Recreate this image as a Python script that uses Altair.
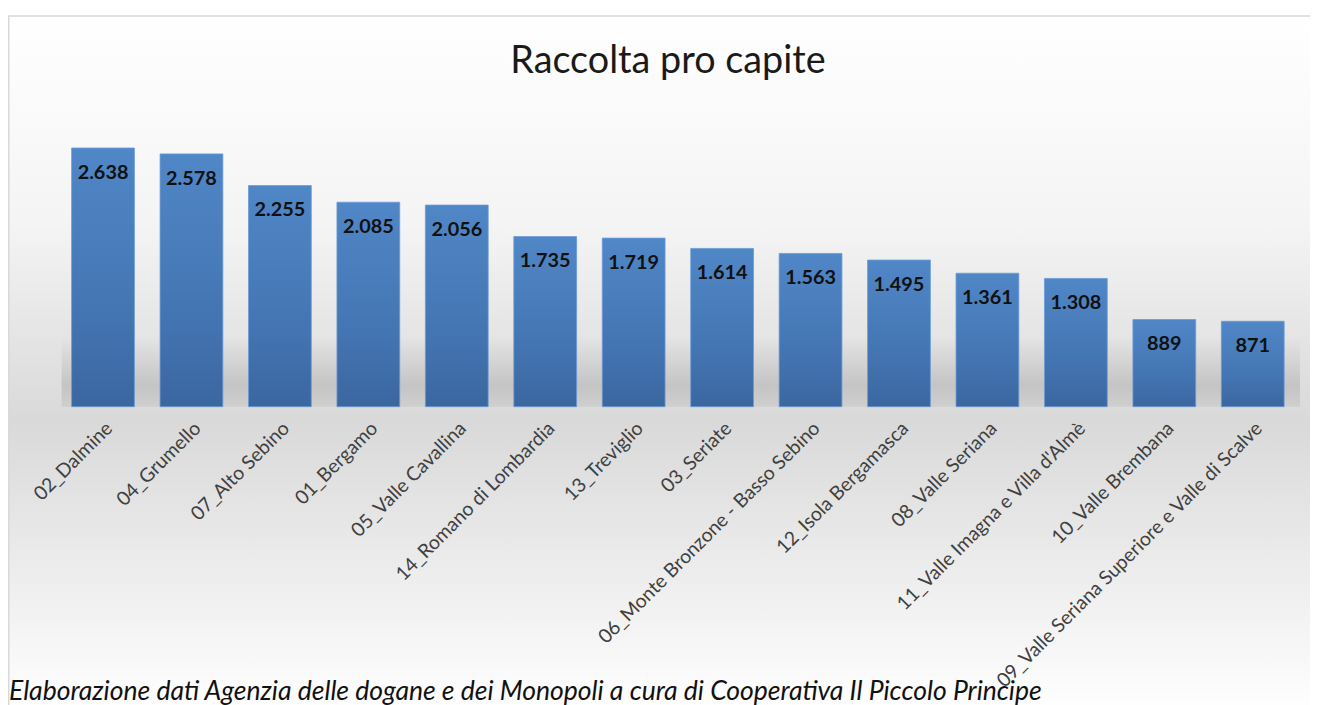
import altair as alt
import pandas as pd

categories = [
    "02_Dalmine", "04_Grumello", "07_Alto Sebino", "01_Bergamo",
    "05_Valle Cavallina", "14_Romano di Lombardia", "13_Treviglio",
    "03_Seriate", "06_Monte Bronzone - Basso Sebino", "12_Isola Bergamasca",
    "08_Valle Seriana", "11_Valle Imagna e Villa d'Almè", "10_Valle Brembana",
    "09_Valle Seriana Superiore e Valle di Scalve",
]
values = [2638, 2578, 2255, 2085, 2056, 1735, 1719, 1614, 1563, 1495, 1361, 1308, 889, 871]
title_text = "Raccolta pro capite"
footer_text = ("Elaborazione dati Agenzia delle dogane e dei Monopoli a cura di "
               "Cooperativa Il Piccolo Principe")

labels = [f"{v:,}".replace(",", ".") for v in values]
df = pd.DataFrame({"cat": categories, "val": values, "lab": labels})

FONT = "Lato"
PW, PH = 1244, 296          # plot area
PL, PT = 52, 103            # padding left / top
TOTAL_W, TOTAL_H = 1310, 697

bg_grad = alt.Gradient(
    gradient="linear", x1=0, x2=0, y1=0, y2=1,
    stops=[
        alt.GradientStop(color="#ffffff", offset=0),
        alt.GradientStop(color="#f4f4f4", offset=0.3),
        alt.GradientStop(color="#d9d9d9", offset=0.58),
        alt.GradientStop(color="#ffffff", offset=1),
    ],
)
shadow_grad = alt.Gradient(
    gradient="linear", x1=0, x2=0, y1=0, y2=1,
    stops=[
        alt.GradientStop(color="rgba(120,120,120,0)", offset=0),
        alt.GradientStop(color="rgba(120,120,120,0.25)", offset=0.7),
        alt.GradientStop(color="rgba(120,120,120,0.12)", offset=1),
    ],
)
bar_grad = alt.Gradient(
    gradient="linear", x1=0, x2=0, y1=0, y2=1,
    stops=[
        alt.GradientStop(color="#5087c7", offset=0),
        alt.GradientStop(color="#4576b4", offset=0.6),
        alt.GradientStop(color="#3b67a0", offset=1),
    ],
)

one = alt.Data(values=[{"k": 1}])

background = alt.Chart(one).mark_rect(
    fill=bg_grad, stroke="#d9d9d9", strokeWidth=1.5
).encode(
    x=alt.value(-PL + 0.75), x2=alt.value(TOTAL_W + 20),
    y=alt.value(-PT + 6), y2=alt.value(TOTAL_H - PT + 10),
)

shadow = alt.Chart(one).mark_rect(fill=shadow_grad).encode(
    x=alt.value(2), x2=alt.value(PW + 4),
    y=alt.value(PH - 70), y2=alt.value(PH),
)

base = alt.Chart(df)
xenc = alt.X(
    "cat:N", sort=categories, title=None,
    scale=alt.Scale(paddingInner=0.29, paddingOuter=0.135),
    axis=alt.Axis(labelAngle=-45, labelFontSize=19.5, labelColor="#404040",
                  labelFont=FONT, domain=False, ticks=False, labelPadding=12,
                  labelLimit=600, zindex=2),
)
yenc = alt.Y("val:Q", axis=None, scale=alt.Scale(domain=[0, 3000], nice=False))

bars = base.mark_bar(fill=bar_grad, stroke="#6b9ad6", strokeWidth=0.8).encode(
    x=xenc, y=yenc
)
texts = base.mark_text(
    font=FONT, fontSize=20, fontWeight="bold", color="#111111",
    baseline="middle", dy=25,
).encode(x=alt.X("cat:N", sort=categories), y=yenc, text="lab:N")

title = alt.Chart(one).mark_text(
    text=title_text, font=FONT, fontSize=38, color="#1a1a1a",
    align="center", baseline="alphabetic",
).encode(x=alt.value(612), y=alt.value(-40))

footer = alt.Chart(one).mark_text(
    text=footer_text, font=FONT, fontSize=26.7, fontStyle="italic",
    color="#111111", align="left", baseline="alphabetic",
).encode(x=alt.value(-PL + 1), y=alt.value(694 - PT))

chart = alt.layer(background, shadow, bars, texts, title, footer).properties(
    width=PW, height=PH,
    autosize=alt.AutoSizeParams(type="none"),
    padding={"left": PL, "top": PT, "right": TOTAL_W - PL - PW,
             "bottom": TOTAL_H - PT - PH},
    background="#ffffff",
).configure_view(stroke=None)

chart.save("out.html", embed_options={"renderer": "svg", "actions": False})
